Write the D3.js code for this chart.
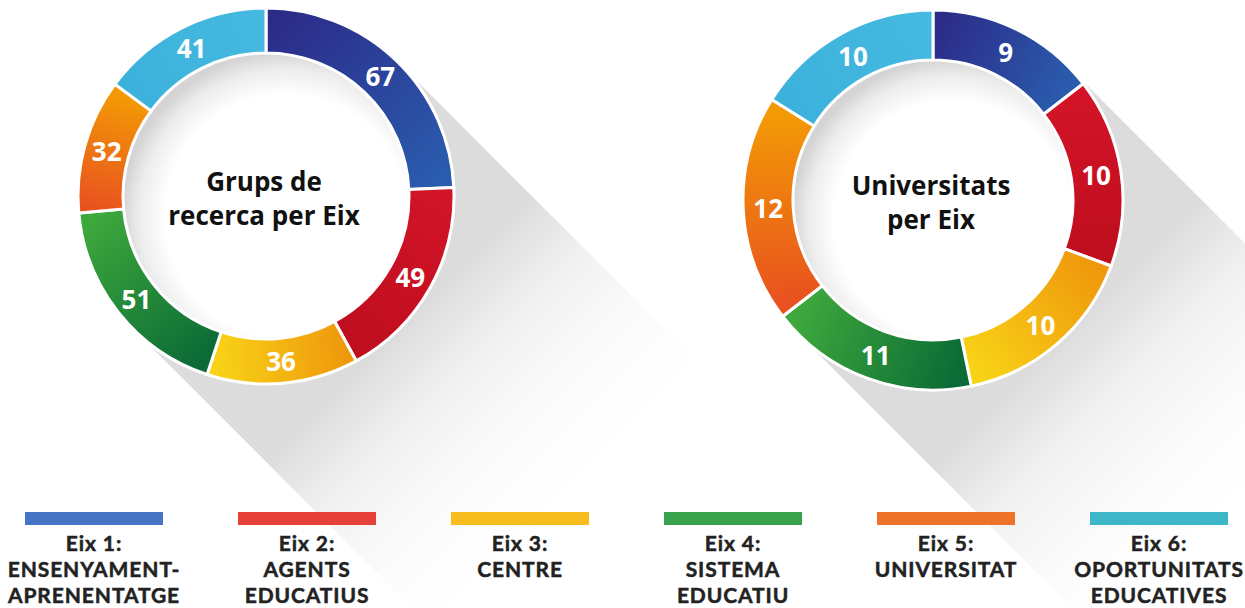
<!DOCTYPE html>
<html>
<head>
<meta charset="utf-8">
<script src="https://cdn.jsdelivr.net/npm/d3@7"></script>
<style>
  html, body { margin: 0; padding: 0; background: #ffffff; }
  svg { display: block; }
</style>
</head>
<body>
<svg id="chart" width="1245" height="608"></svg>
<script>
// ---- data ----
const axisNames = ["Eix 1:", "Eix 2:", "Eix 3:", "Eix 4:", "Eix 5:", "Eix 6:"];
const axisLabels = [
  ["ENSENYAMENT-", "APRENENTATGE"],
  ["AGENTS", "EDUCATIUS"],
  ["CENTRE"],
  ["SISTEMA", "EDUCATIU"],
  ["UNIVERSITAT"],
  ["OPORTUNITATS", "EDUCATIVES"]
];
const grupsValues = [67, 49, 36, 51, 32, 41];
const universitatsValues = [9, 10, 10, 11, 12, 10];
const grupsTitle = ["Grups de", "recerca per Eix"];
const universitatsTitle = ["Universitats", "per Eix"];

// ---- styles ----
const legendColors = ["#4674c4", "#e5403a", "#f7bc1e", "#37a24b", "#ee7227", "#3db6c8"];
const segStart = ["#2c2b88", "#d21428", "#ef980c", "#0b6a36", "#e8521f", "#3cb1dc"];
const segEnd   = ["#2a5cae", "#bf0e1e", "#f8d316", "#3ea83c", "#f39a05", "#45b9df"];

const svg = d3.select("#chart");
const defs = svg.append("defs");

function drawDonut(id, values, title, cx, cy, rOuter, rInner) {
  const g = svg.append("g").attr("transform", `translate(${cx},${cy})`);

  // long shadow
  const L = rOuter + 260;
  const sg = defs.append("linearGradient").attr("id", id + "-shadow")
    .attr("gradientUnits", "userSpaceOnUse")
    .attr("x1", 0).attr("y1", 0).attr("x2", L / Math.SQRT2).attr("y2", L / Math.SQRT2);
  sg.append("stop").attr("offset", rOuter / L).attr("stop-color", "#dcdcdc").attr("stop-opacity", 1);
  sg.append("stop").attr("offset", (rOuter + 80) / L).attr("stop-color", "#eeeeee").attr("stop-opacity", 0.8);
  sg.append("stop").attr("offset", (rOuter + 180) / L).attr("stop-color", "#f8f8f8").attr("stop-opacity", 0.4);
  sg.append("stop").attr("offset", 1).attr("stop-color", "#ffffff").attr("stop-opacity", 0);
  const k = rOuter / Math.SQRT2;
  const d = L / Math.SQRT2;
  g.append("path")
    .attr("d", `M${k},${-k} L${k + d},${-k + d} L${-k + d},${k + d} L${-k},${k} Z`)
    .attr("fill", `url(#${id}-shadow)`);

  // inner disc with soft inner shadow
  const rg = defs.append("radialGradient").attr("id", id + "-inner")
    .attr("cx", "0.57").attr("cy", "0.57").attr("r", "0.57");
  rg.append("stop").attr("offset", 0).attr("stop-color", "#ffffff");
  rg.append("stop").attr("offset", 0.74).attr("stop-color", "#ffffff");
  rg.append("stop").attr("offset", 0.9).attr("stop-color", "#ececec");
  rg.append("stop").attr("offset", 1).attr("stop-color", "#d4d4d4");
  g.append("circle").attr("r", rOuter + 1).attr("fill", "#ffffff");
  g.append("circle").attr("r", rInner + 1).attr("fill", `url(#${id}-inner)`);

  const pie = d3.pie().sort(null).value(v => v);
  const arcs = pie(values);
  const arc = d3.arc().innerRadius(rInner).outerRadius(rOuter);
  const rMid = (rInner + rOuter) / 2;

  arcs.forEach((a, i) => {
    const gid = `${id}-seg${i}`;
    const lg = defs.append("linearGradient").attr("id", gid)
      .attr("gradientUnits", "userSpaceOnUse")
      .attr("x1", rMid * Math.sin(a.startAngle)).attr("y1", -rMid * Math.cos(a.startAngle))
      .attr("x2", rMid * Math.sin(a.endAngle)).attr("y2", -rMid * Math.cos(a.endAngle));
    lg.append("stop").attr("offset", 0).attr("stop-color", segStart[i]);
    lg.append("stop").attr("offset", 1).attr("stop-color", segEnd[i]);
  });

  g.selectAll("path.seg").data(arcs).join("path")
    .attr("class", "seg")
    .attr("d", arc)
    .attr("fill", (d, i) => `url(#${id}-seg${i})`)
    .attr("stroke", "#ffffff")
    .attr("stroke-width", 3)
    .attr("stroke-linejoin", "miter");

  const labelArc = d3.arc().innerRadius(rMid).outerRadius(rMid);
  g.selectAll("text.val").data(arcs).join("text")
    .attr("class", "val")
    .attr("transform", d => `translate(${labelArc.centroid(d)})`)
    .attr("text-anchor", "middle")
    .attr("dominant-baseline", "central")
    .attr("font-family", "'Open Sans', sans-serif")
    .attr("font-weight", 700)
    .attr("font-size", 26)
    .attr("fill", "#ffffff")
    .text(d => d.data);

  g.selectAll("text.title").data(title).join("text")
    .attr("class", "title")
    .attr("x", -2)
    .attr("y", (d, i) => -5 + i * 34)
    .attr("text-anchor", "middle")
    .attr("font-family", "'Open Sans', sans-serif")
    .attr("font-weight", 700)
    .attr("font-size", 26)
    .attr("fill", "#111111")
    .text(d => d);
}

drawDonut("grups", grupsValues, grupsTitle, 266, 196, 188, 143);
drawDonut("univ", universitatsValues, universitatsTitle, 933, 200, 190, 140);

// ---- legend ----
const xLegend = d3.scalePoint().domain(axisNames).range([94, 1159]);
const legend = svg.append("g");
const items = legend.selectAll("g.item").data(axisNames).join("g")
  .attr("class", "item")
  .attr("transform", d => `translate(${xLegend(d)},0)`);
items.append("rect")
  .attr("x", -69).attr("y", 512).attr("width", 138).attr("height", 13)
  .attr("fill", (d, i) => legendColors[i]);
items.each(function (d, i) {
  const lines = [d].concat(axisLabels[i]);
  d3.select(this).selectAll("text").data(lines).join("text")
    .attr("x", 0)
    .attr("y", (t, j) => 551 + j * 26)
    .attr("text-anchor", "middle")
    .attr("font-family", "Lato, sans-serif")
    .attr("font-weight", 700)
    .attr("font-size", 21)
    .attr("letter-spacing", 0.9)
    .attr("fill", "#222222")
    .attr("stroke", "#222222")
    .attr("stroke-width", 0.5)
    .text(t => t);
});
</script>
</body>
</html>
